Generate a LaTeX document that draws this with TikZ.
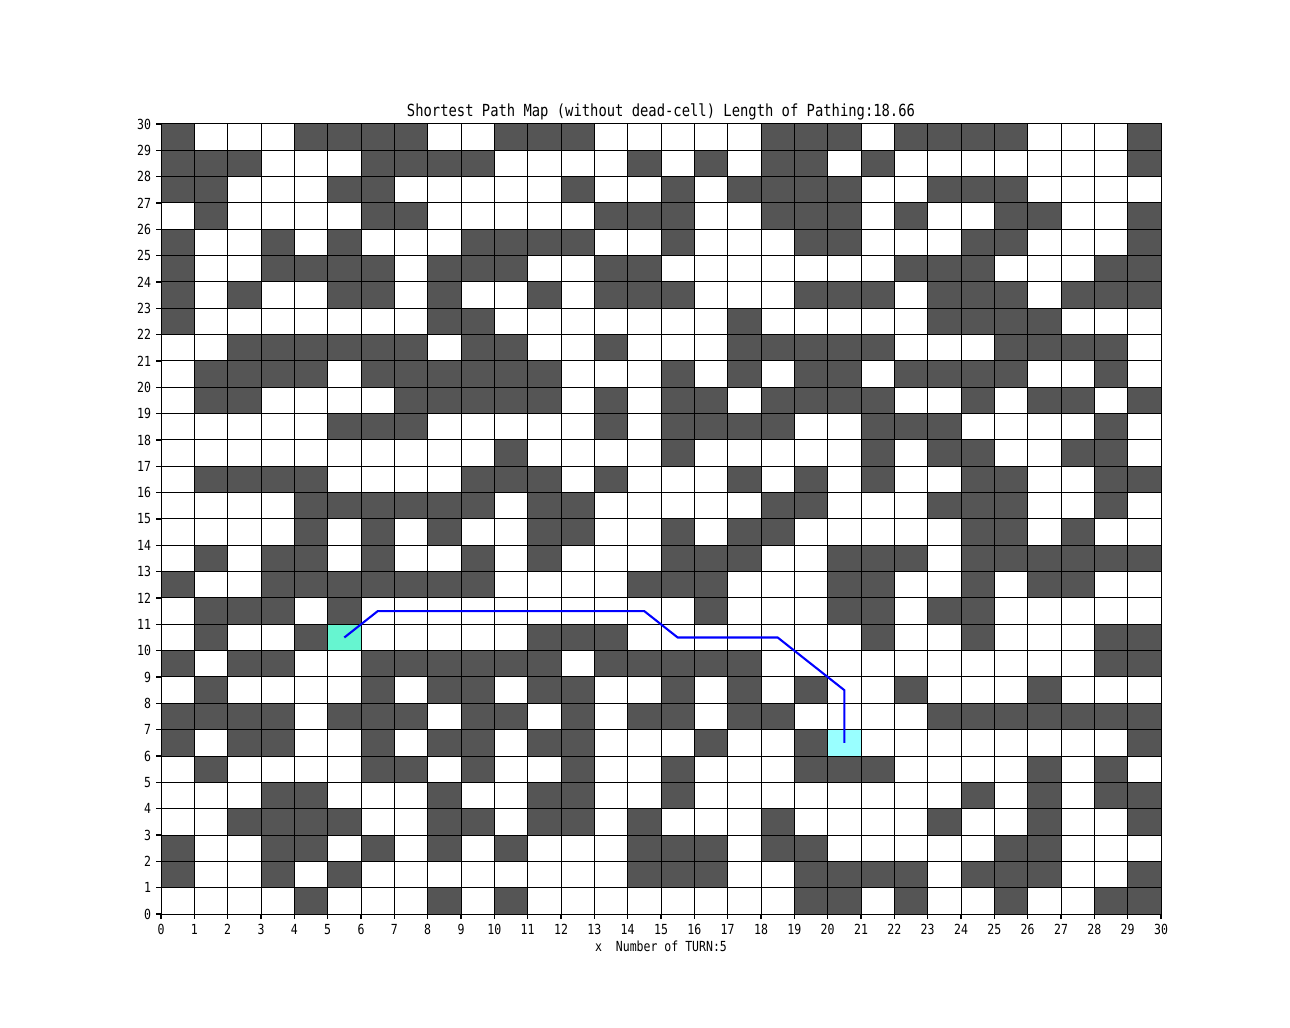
\documentclass[tikz,border=0pt]{standalone}
\usepackage{fontspec}
\newfontfamily\plotfont[FakeStretch=0.83]{DejaVu Sans Mono}
\definecolor{cellgray}{RGB}{85,85,85}
\definecolor{startc}{RGB}{102,245,208}
\definecolor{goalc}{RGB}{153,255,255}
\begin{document}
\begin{tikzpicture}[x=24pt,y=18.96pt,
  darkcell/.style={fill=cellgray},
  gridline/.style={draw=black,line width=0.72pt,line cap=rect},
  tickline/.style={draw=black,line width=0.8pt},
  ticklbl/.style={inner sep=0pt,font=\plotfont\fontsize{10}{12}\selectfont},
  titlelbl/.style={inner sep=0pt,font=\plotfont\fontsize{12}{14}\selectfont},
  pathline/.style={draw=blue,line width=1.5pt,line join=miter}]
\useasboundingbox[fill=white] (-4.83,-4.2912) rectangle (33.87,34.709);
% obstacle cells
\foreach \r/\cols in {
 29/{0,4,5,6,7,10,11,12,18,19,20,22,23,24,25,29},
 28/{0,1,2,6,7,8,9,14,16,18,19,21,29},
 27/{0,1,5,6,12,15,17,18,19,20,23,24,25},
 26/{1,6,7,13,14,15,18,19,20,22,25,26,29},
 25/{0,3,5,9,10,11,12,15,19,20,24,25,29},
 24/{0,3,4,5,6,8,9,10,13,14,22,23,24,28,29},
 23/{0,2,5,6,8,11,13,14,15,19,20,21,23,24,25,27,28,29},
 22/{0,8,9,17,23,24,25,26},
 21/{2,3,4,5,6,7,9,10,13,17,18,19,20,21,25,26,27,28},
 20/{1,2,3,4,6,7,8,9,10,11,15,17,19,20,22,23,24,25,28},
 19/{1,2,7,8,9,10,11,13,15,16,18,19,20,21,24,26,27,29},
 18/{5,6,7,13,15,16,17,18,21,22,23,28},
 17/{10,15,21,23,24,27,28},
 16/{1,2,3,4,9,10,11,13,17,19,21,24,25,28,29},
 15/{4,5,6,7,8,9,11,12,18,19,23,24,25,28},
 14/{4,6,8,11,12,15,17,18,24,25,27},
 13/{1,3,4,6,9,11,15,16,17,20,21,22,24,25,26,27,28,29},
 12/{0,3,4,5,6,7,8,9,14,15,16,20,21,24,26,27},
 11/{1,2,3,5,16,20,21,23,24},
 10/{1,4,11,12,13,21,24,28,29},
 9/{0,2,3,6,7,8,9,10,11,13,14,15,16,17,28,29},
 8/{1,6,8,9,11,12,15,17,19,22,26},
 7/{0,1,2,3,5,6,7,9,10,12,14,15,17,18,23,24,25,26,27,28,29},
 6/{0,2,3,6,8,9,11,12,16,19,29},
 5/{1,6,7,9,12,15,19,20,21,26,28},
 4/{3,4,8,11,12,15,24,26,28,29},
 3/{2,3,4,5,8,9,11,12,14,18,23,26,29},
 2/{0,3,4,6,8,10,14,15,16,18,19,25,26},
 1/{0,3,5,14,15,16,19,20,21,22,24,25,26,29},
 0/{4,8,10,19,20,22,25,28,29}} {
  \foreach \c in \cols { \fill[darkcell] (\c,\r) rectangle ++(1,1); }
}
% start and goal cells
\fill[startc] (5,10) rectangle (6,11);
\fill[goalc] (20,6) rectangle (21,7);
% grid
\foreach \i in {0,...,30} {
  \draw[gridline] (\i,0) -- (\i,30);
  \draw[gridline] (0,\i) -- (30,\i);
}
% ticks and labels
\foreach \i in {0,...,30} {
  \draw[tickline] (\i,0) -- ++(0,-3.5pt);
  \draw[tickline] (0,\i) -- ++(-3.5pt,0);
  \node[ticklbl,anchor=east] (yl\i) at ([xshift=-7pt]0,\i) {\i};
  \node[ticklbl,anchor=north] (xl\i) at ([yshift=-7pt]\i,0) {\i};
}
% title and axis label
\node[titlelbl,anchor=base] (title) at (15,30.30) {Shortest Path Map (without dead-cell) Length of Pathing:18.66};
\node[ticklbl,anchor=center] (xlabel) at (15,-1.22) {x\ \ Number of TURN:5};
% path
\coordinate (p0) at (5.5,10.5);
\coordinate (p1) at (6.5,11.5);
\coordinate (p2) at (14.5,11.5);
\coordinate (p3) at (15.5,10.5);
\coordinate (p4) at (18.5,10.5);
\coordinate (p5) at (20.5,8.5);
\coordinate (p6) at (20.5,6.5);
\draw[pathline] (p0) -- (p1) -- (p2) -- (p3) -- (p4) -- (p5) -- (p6);
\end{tikzpicture}
\end{document}
